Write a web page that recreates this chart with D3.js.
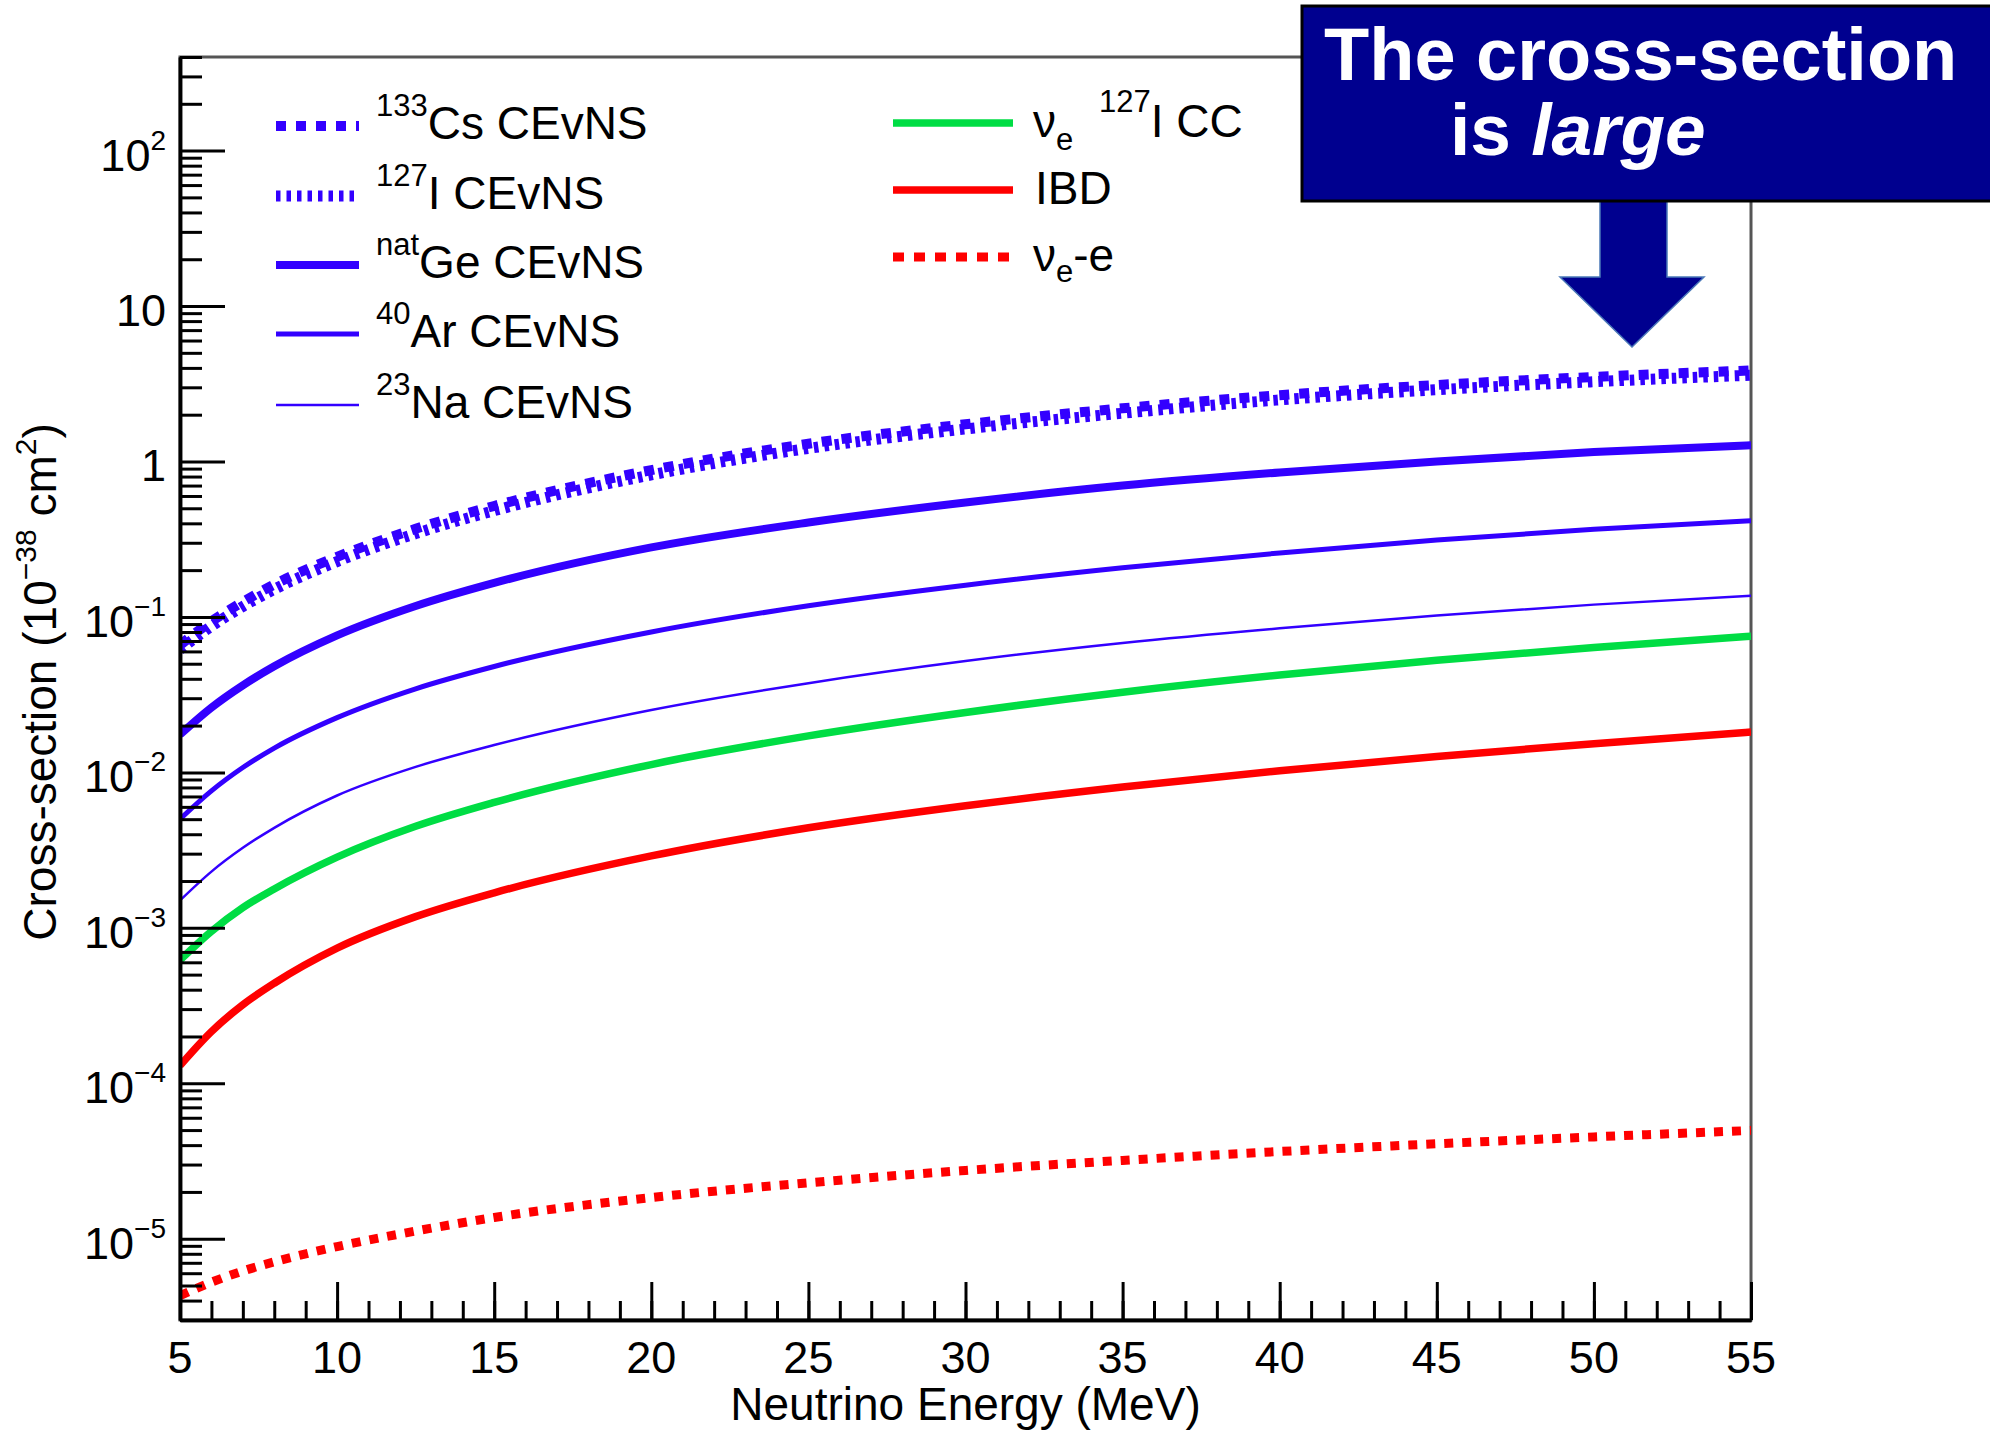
<!DOCTYPE html>
<html>
<head>
<meta charset="utf-8">
<script src="https://cdn.jsdelivr.net/npm/d3@7"></script>
<style>
body { margin: 0; background: #fff; }
svg text { font-family: "Liberation Sans", Arial, Helvetica, sans-serif; }
</style>
</head>
<body>
<svg id="chart" width="1990" height="1436"></svg>
<script>
var energies = [5, 6, 7, 8, 10, 12.5, 15, 20, 25, 30, 35, 40, 45, 50, 55];

// cross-sections in 1e-38 cm^2
var csCevns  = [0.066, 0.0936, 0.125, 0.1617, 0.2435, 0.3687, 0.5175, 0.88, 1.301, 1.735, 2.198, 2.671, 3.105, 3.499, 3.854];
var iCevns   = [0.0617, 0.0872, 0.1167, 0.1505, 0.2272, 0.3434, 0.4825, 0.8197, 1.214, 1.619, 2.044, 2.49, 2.895, 3.258, 3.59];
var geCevns  = [0.0175, 0.0261, 0.0363, 0.0481, 0.076, 0.1175, 0.1655, 0.28, 0.405, 0.545, 0.70, 0.85, 1.0, 1.15, 1.27];
var arCevns  = [0.005, 0.0076, 0.01074, 0.01433, 0.0225, 0.0345, 0.048, 0.08, 0.118, 0.16, 0.207, 0.258, 0.313, 0.366, 0.416];
var naCevns  = [0.0015, 0.0023, 0.00327, 0.0044, 0.0071, 0.01085, 0.015, 0.0252, 0.0375, 0.052, 0.068, 0.0845, 0.102, 0.12, 0.137];
var iodineCC = [0.00062, 0.00095, 0.00135, 0.00178, 0.00285, 0.0045, 0.00641, 0.01123, 0.01716, 0.02427, 0.0328, 0.0423, 0.0526, 0.0636, 0.0751];
var ibd      = [0.00013, 0.000215, 0.00032, 0.00044, 0.00074, 0.00118, 0.00168, 0.0029, 0.0044, 0.0061, 0.00805, 0.01024, 0.01266, 0.0153, 0.01816];
var nuE      = [4.3e-6, 5.25e-6, 6.2e-6, 7.1e-6, 8.9e-6, 1.12e-5, 1.37e-5, 1.84e-5, 2.29e-5, 2.75e-5, 3.19e-5, 3.64e-5, 4.08e-5, 4.52e-5, 4.97e-5];

// tick labels
var xMajor = [5, 10, 15, 20, 25, 30, 35, 40, 45, 50, 55];
var yMajor = [1e-5, 1e-4, 1e-3, 1e-2, 1e-1, 1, 10, 100];
var yBase  = ["10", "10", "10", "10", "10", "1", "10", "10"];
var yExp   = ["\u22125", "\u22124", "\u22123", "\u22122", "\u22121", "", "", "2"];

// legend texts
var legendSup  = ["133", "127", "nat", "40", "23"];
var legendMain = ["Cs CEvNS", "I CEvNS", "Ge CEvNS", "Ar CEvNS", "Na CEvNS"];

var BLUE = "#3300ff", GREEN = "#00dd44", RED = "#ff0000";

var series = [
    { values: iCevns,   color: BLUE,  width: 11, dash: "4.5,6" },
    { values: csCevns,  color: BLUE,  width: 10, dash: "10,10" },
    { values: geCevns,  color: BLUE,  width: 8,  dash: null },
    { values: arCevns,  color: BLUE,  width: 5,  dash: null },
    { values: naCevns,  color: BLUE,  width: 2.5, dash: null },
    { values: iodineCC, color: GREEN, width: 7.5, dash: null },
    { values: ibd,      color: RED,   width: 7.5, dash: null },
    { values: nuE,      color: RED,   width: 9,  dash: "9,9" }
];

// plot frame (window.top is read-only, hence the short names)
var pL = 180, pR = 1751, pT = 57, pB = 1320;

var svg = d3.select("#chart");

var x = d3.scaleLinear().domain([5, 55]).range([pL, pR]);
var y = d3.scaleLog().domain([3e-6, 400]).range([pB, pT]);

svg.append("clipPath").attr("id", "plotclip")
    .append("rect")
    .attr("x", pL).attr("y", pT)
    .attr("width", pR - pL).attr("height", pB - pT);

// frame (top / right sides are greyish in the original)
svg.append("rect")
    .attr("x", pL).attr("y", pT)
    .attr("width", pR - pL).attr("height", pB - pT)
    .attr("fill", "none")
    .attr("stroke", "#555")
    .attr("stroke-width", 3);

// curves
var line = d3.line()
    .x(function (d) { return x(d[0]); })
    .y(function (d) { return y(d[1]); })
    .curve(d3.curveMonotoneX);

var curves = svg.append("g").attr("clip-path", "url(#plotclip)");
series.forEach(function (s) {
    var pts = energies.map(function (e, i) { return [e, s.values[i]]; });
    curves.append("path")
        .attr("d", line(pts))
        .attr("fill", "none")
        .attr("stroke", s.color)
        .attr("stroke-width", s.width)
        .attr("stroke-dasharray", s.dash);
});

// y axis: ticks point into the plot
var yMinor = [];
for (var k = -6; k <= 2; k++) {
    for (var m = 2; m <= 9; m++) {
        var v = m * Math.pow(10, k);
        if (v >= 3e-6 && v <= 400) yMinor.push(v);
    }
}

function styleAxis(g) {
    g.selectAll(".tick line").attr("stroke", "#000").attr("stroke-width", 3);
    g.select(".domain").attr("stroke", "#000").attr("stroke-width", 3.5);
}

svg.append("g")
    .attr("transform", "translate(" + pL + ",0)")
    .call(d3.axisRight(y).tickValues(yMinor).tickSize(22).tickSizeOuter(0).tickFormat(""))
    .call(styleAxis);
svg.append("g")
    .attr("transform", "translate(" + pL + ",0)")
    .call(d3.axisRight(y).tickValues(yMajor).tickSize(45).tickSizeOuter(0).tickFormat(""))
    .call(styleAxis);

// x axis: ticks point up
svg.append("g")
    .attr("transform", "translate(0," + pB + ")")
    .call(d3.axisTop(x).tickValues(d3.range(5, 56, 1)).tickSize(19).tickSizeOuter(0).tickFormat(""))
    .call(styleAxis);
svg.append("g")
    .attr("transform", "translate(0," + pB + ")")
    .call(d3.axisTop(x).tickValues(xMajor).tickSize(38).tickSizeOuter(0).tickFormat(""))
    .call(styleAxis);

// tick labels
svg.append("g").selectAll("text")
    .data(xMajor)
    .enter().append("text")
    .attr("x", function (d) { return x(d); })
    .attr("y", 1373)
    .attr("text-anchor", "middle")
    .attr("font-size", 45)
    .text(function (d) { return d; });

var yLab = svg.append("g").selectAll("text")
    .data(yMajor)
    .enter().append("text")
    .attr("x", 166)
    .attr("y", function (d) { return y(d) + 20; })
    .attr("text-anchor", "end")
    .attr("font-size", 45);
yLab.append("tspan").text(function (d, i) { return yBase[i]; });
yLab.append("tspan")
    .attr("dy", -21)
    .attr("font-size", 28)
    .text(function (d, i) { return yExp[i]; });

// axis titles
svg.append("text")
    .attr("x", (pL + pR) / 2)
    .attr("y", 1420)
    .attr("text-anchor", "middle")
    .attr("font-size", 46)
    .text("Neutrino Energy (MeV)");

var yt = svg.append("text")
    .attr("transform", "translate(56,682) rotate(-90)")
    .attr("text-anchor", "middle")
    .attr("font-size", 46);
yt.append("tspan").text("Cross-section (10");
yt.append("tspan").attr("dy", -20).attr("font-size", 30).text("\u221238");
yt.append("tspan").attr("dy", 20).text(" cm");
yt.append("tspan").attr("dy", -20).attr("font-size", 30).text("2");
yt.append("tspan").attr("dy", 20).text(")");

// legend, left column
var legRows = [126, 196, 265, 334, 405];
var legStyle = [series[1], series[0], series[2], series[3], series[4]];
legRows.forEach(function (ly, i) {
    svg.append("line")
        .attr("x1", 276).attr("x2", 359)
        .attr("y1", ly).attr("y2", ly)
        .attr("stroke", legStyle[i].color)
        .attr("stroke-width", legStyle[i].width)
        .attr("stroke-dasharray", legStyle[i].dash);
    var t = svg.append("text")
        .attr("x", 376)
        .attr("y", ly + 13)
        .attr("font-size", 46);
    t.append("tspan").attr("dy", -23).attr("font-size", 31).text(legendSup[i]);
    t.append("tspan").attr("dy", 23).text(legendMain[i]);
});

// legend, right column
var rRows = [123, 190, 257];
var rStyle = [series[5], series[6], series[7]];
rRows.forEach(function (ly, i) {
    svg.append("line")
        .attr("x1", 893).attr("x2", 1013)
        .attr("y1", ly).attr("y2", ly)
        .attr("stroke", rStyle[i].color)
        .attr("stroke-width", rStyle[i].width)
        .attr("stroke-dasharray", rStyle[i].dash ? "11,10" : null);
});
var t1 = svg.append("text").attr("x", 1033).attr("y", 137).attr("font-size", 46);
t1.append("tspan").text("\u03bd");
t1.append("tspan").attr("dy", 13).attr("font-size", 31).text("e");
t1.append("tspan").attr("x", 1099).attr("dy", -38).attr("font-size", 31).text("127");
t1.append("tspan").attr("dy", 25).text("I CC");

svg.append("text").attr("x", 1035).attr("y", 204).attr("font-size", 46).text("IBD");

var t3 = svg.append("text").attr("x", 1033).attr("y", 271).attr("font-size", 46);
t3.append("tspan").text("\u03bd");
t3.append("tspan").attr("dy", 11).attr("font-size", 31).text("e");
t3.append("tspan").attr("dy", -11).text("-e");

// annotation box and arrow
var NAVY = "#00008f";
svg.append("path")
    .attr("d", "M1600,195 L1667,195 L1667,277 L1704,277 L1632,347 L1560,277 L1600,277 Z")
    .attr("fill", NAVY)
    .attr("stroke", "#4a78b8")
    .attr("stroke-width", 1.5);

svg.append("rect")
    .attr("x", 1302).attr("y", 6)
    .attr("width", 720).attr("height", 195)
    .attr("fill", NAVY)
    .attr("stroke", "#000")
    .attr("stroke-width", 3);

svg.append("text")
    .attr("x", 1324).attr("y", 80)
    .attr("fill", "#fff")
    .attr("font-size", 74)
    .attr("font-weight", "bold")
    .text("The cross-section");
var t4 = svg.append("text")
    .attr("x", 1450).attr("y", 155)
    .attr("fill", "#fff")
    .attr("font-size", 73)
    .attr("font-weight", "bold");
t4.append("tspan").text("is ");
t4.append("tspan").attr("font-style", "italic").text("large");
</script>
</body>
</html>
